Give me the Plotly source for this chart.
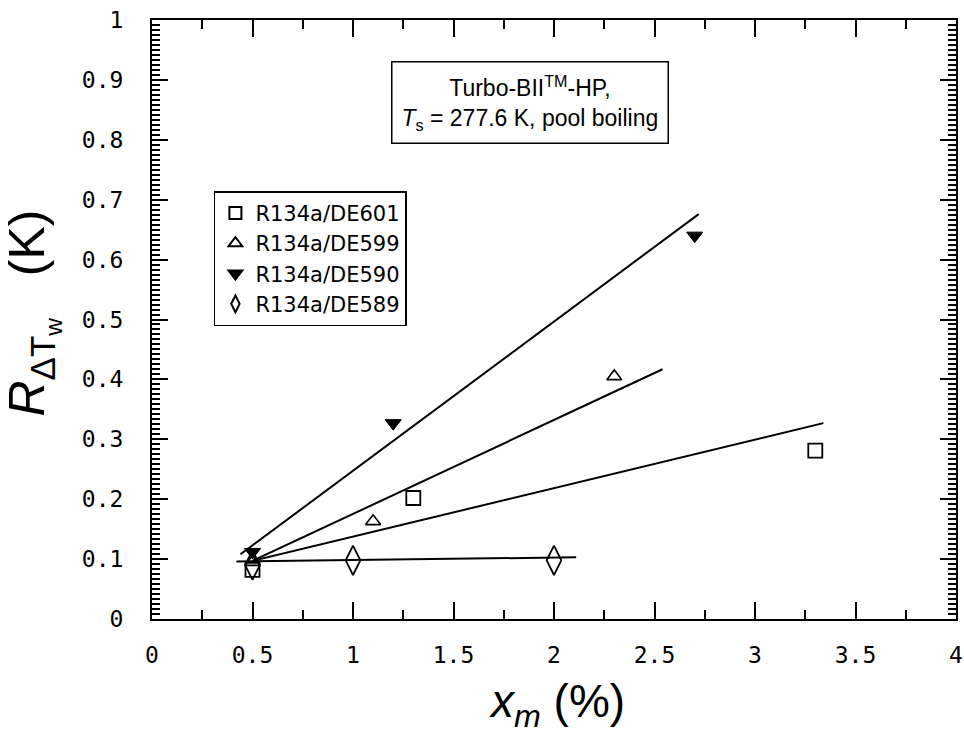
import plotly.graph_objects as go

# ---- data ----
series_names = ["R134a/DE601", "R134a/DE599", "R134a/DE590", "R134a/DE589"]

x_de601 = [0.5, 1.3, 3.3]
y_de601 = [0.082, 0.202, 0.281]
x_de599 = [0.5, 1.1, 2.3]
y_de599 = [0.095, 0.163, 0.405]
x_de590 = [0.5, 1.2, 2.7]
y_de590 = [0.112, 0.327, 0.640]
x_de589 = [0.5, 1.0, 2.0]
y_de589 = [0.090, 0.098, 0.098]

fit601_x = [0.5, 3.34]
fit601_y = [0.097, 0.327]
fit599_x = [0.5, 2.54]
fit599_y = [0.097, 0.417]
fit590_x = [0.44, 2.72]
fit590_y = [0.108, 0.676]
fit589_x = [0.42, 2.11]
fit589_y = [0.096, 0.103]

x_ticks = [0, 0.5, 1, 1.5, 2, 2.5, 3, 3.5, 4]
x_ticktext = ["0", "0.5", "1", "1.5", "2", "2.5", "3", "3.5", "4"]
y_ticks = [0, 0.1, 0.2, 0.3, 0.4, 0.5, 0.6, 0.7, 0.8, 0.9, 1]
y_ticktext = ["0", "0.1", "0.2", "0.3", "0.4", "0.5", "0.6", "0.7", "0.8", "0.9", "1"]

FONT = "Liberation Sans, Arial, Helvetica, sans-serif"
LEGFONT = "DejaVu Sans, Liberation Sans, sans-serif"
TICKFONT = "DejaVu Sans Mono, monospace"

fig = go.Figure()

# fit lines
for fx, fy in [(fit601_x, fit601_y), (fit599_x, fit599_y),
               (fit590_x, fit590_y), (fit589_x, fit589_y)]:
    fig.add_trace(go.Scatter(x=fx, y=fy, mode="lines",
                             line=dict(color="black", width=2),
                             showlegend=False, hoverinfo="skip"))

# data points
fig.add_trace(go.Scatter(x=x_de601, y=y_de601, mode="markers", name=series_names[0],
                         marker=dict(symbol="square-open", size=14, color="black",
                                     line=dict(width=1.8, color="black"))))
fig.add_trace(go.Scatter(x=x_de599, y=y_de599, mode="markers", name=series_names[1],
                         marker=dict(symbol="triangle-up-open", size=13, color="black",
                                     line=dict(width=1.6, color="black"))))
fig.add_trace(go.Scatter(x=x_de590, y=y_de590, mode="markers", name=series_names[2],
                         marker=dict(symbol="triangle-down", size=14, color="black",
                                     line=dict(width=1, color="black"))))
fig.add_trace(go.Scatter(x=x_de589, y=y_de589, mode="markers", name=series_names[3],
                         marker=dict(symbol="diamond-tall-open", size=21, color="black",
                                     line=dict(width=1.8, color="black"))))

axis_common = dict(
    showline=True, linecolor="black", linewidth=2, mirror="ticks",
    ticks="inside", tickcolor="black", tickwidth=1.8,
    showgrid=False, zeroline=False, automargin=False,
    ticklabeloverflow="allow",
    tickfont=dict(family=TICKFONT, size=23, color="black"),
)

fig.update_xaxes(range=[0, 4], tickmode="array", tickvals=x_ticks, ticktext=x_ticktext,
                 ticklen=17, ticklabelstandoff=14,
                 minor=dict(dtick=0.25, ticklen=9, ticks="inside", tickwidth=1.8,
                            tickcolor="black"),
                 **axis_common)
fig.update_yaxes(range=[0, 1], tickmode="array", tickvals=y_ticks, ticktext=y_ticktext,
                 ticklen=16, ticklabelstandoff=22,
                 minor=dict(dtick=0.1 / 12, ticklen=8, ticks="inside", tickwidth=1.5,
                            tickcolor="black"),
                 **axis_common)

fig.update_layout(
    width=964, height=735,
    margin=dict(l=152, r=8, t=20, b=116),
    plot_bgcolor="white", paper_bgcolor="white",
    font=dict(family=FONT, color="black"),
    showlegend=True,
    legend=dict(x=0.077, y=0.714, xanchor="left", yanchor="top",
                bordercolor="black", borderwidth=1.5, bgcolor="white",
                font=dict(family=LEGFONT, size=21, color="black"),
                itemsizing="constant", tracegroupgap=0),
    annotations=[
        dict(x=1.88, y=0.863, xref="x", yref="y", showarrow=False,
             xanchor="center", yanchor="middle",
             text="Turbo-BII<sup>TM</sup>-HP,<br><i>T</i><sub>s</sub> = 277.6 K, pool boiling",
             font=dict(family=FONT, size=23, color="black"),
             bordercolor="black", borderwidth=1.5, borderpad=9, bgcolor="white",
             align="center"),
        dict(x=-0.148, y=0.51, xref="paper", yref="paper", showarrow=False,
             xanchor="center", yanchor="middle",
             text="<i>R</i><sub>ΔT<sub>w</sub></sub>   (K)", textangle=-90,
             font=dict(family=FONT, size=50, color="black")),
        dict(x=0.504, y=-0.143, xref="paper", yref="paper", showarrow=False,
             xanchor="center", yanchor="middle",
             text="<i>x<sub>m</sub></i> (%)",
             font=dict(family=FONT, size=46, color="black")),
    ],
)

# remove the page's default 8 px body margin so the figure fills the window
fig.write_html("out.html",
               config={"displayModeBar": False},
               post_script="document.body.style.margin='0';document.body.style.overflow='hidden';")
